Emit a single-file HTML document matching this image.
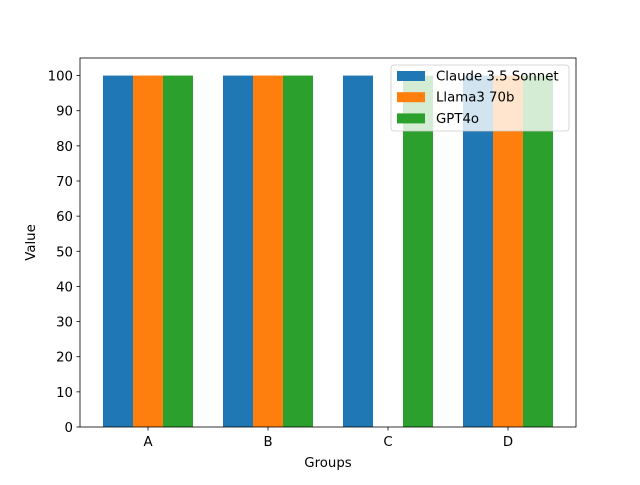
<!DOCTYPE html>
<html><head><meta charset="utf-8"><style>body{margin:0;background:#fff}svg{font-family:"DejaVu Sans","Liberation Sans",sans-serif}</style></head>
<body>
<svg id="chart" width="640" height="480" viewBox="0 0 640 480" xmlns="http://www.w3.org/2000/svg">
<rect width="640" height="480" fill="#fff"/>
<g id="bars"></g>
<g id="axes"></g>
</svg>
<script>
const categories = ["A","B","C","D"];
const seriesNames = ["Claude 3.5 Sonnet","Llama3 70b","GPT4o"];
const claudeValues = [100,100,100,100];
const llamaValues = [100,100,0,100];
const gptValues = [100,100,100,100];
const yTicks = [0,10,20,30,40,50,60,70,80,90,100];
const colors = ["#1f77b4","#ff7f0e","#2ca02c"];
const L=80,R=576,T=58,B=427;
const xmin=-0.5667,xmax=3.5667,ymin=0,ymax=105;
const xs=v=>L+(v-xmin)/(xmax-xmin)*(R-L);
const ys=v=>B-(v-ymin)/(ymax-ymin)*(B-T);
const NS="http://www.w3.org/2000/svg";
const FS=13.3;
function mk(tag,attrs,parent){const e=document.createElementNS(NS,tag);for(const k in attrs)e.setAttribute(k,attrs[k]);parent.appendChild(e);return e;}
const bars=document.getElementById('bars'),axes=document.getElementById('axes');
const series=[claudeValues,llamaValues,gptValues];
const w=0.25;
series.forEach((vals,si)=>{vals.forEach((v,i)=>{
 const c=i+(si-1)*w;
 const r=mk('rect',{x:xs(c-w/2),y:ys(v),width:xs(c+w/2)-xs(c-w/2),height:ys(0)-ys(v),fill:colors[si]},bars);
 
 
});});
mk('rect',{x:L,y:T,width:R-L,height:B-T,fill:'none',stroke:'#000','stroke-width':0.8},axes);
yTicks.forEach(t=>{const y=ys(t);
 mk('line',{x1:L-3.5,x2:L,y1:y,y2:y,stroke:'#000','stroke-width':0.8},axes);
 const tx=mk('text',{x:L-7,y:y+5,'text-anchor':'end','font-size':FS},axes);tx.textContent=t;
 
 
});
categories.forEach((c,i)=>{const x=xs(i);
 mk('line',{x1:x,x2:x,y1:B,y2:B+3.5,stroke:'#000','stroke-width':0.8},axes);
 const tx=mk('text',{x:x,y:B+19,'text-anchor':'middle','font-size':FS},axes);tx.textContent=c;
 
 
});
let t=mk('text',{x:(L+R)/2,y:467,'text-anchor':'middle','font-size':FS},axes);t.textContent='Groups';


t=mk('text',{x:0,y:0,'text-anchor':'middle','font-size':FS,transform:`translate(35,${(T+B)/2}) rotate(-90)`},axes);t.textContent='Value';


const lg=mk('g',{},axes);


mk('rect',{x:391,y:65,width:178,height:66,rx:3,fill:'#fff','fill-opacity':0.8,stroke:'#ccc','stroke-width':0.8},lg);
seriesNames.forEach((n,i)=>{const y=70+i*21.2;
 mk('rect',{x:397,y:y+1,width:28,height:10,fill:colors[i]},lg);
 const tx=mk('text',{x:408+0,y:y+10.5,'font-size':FS,dx:0},lg);tx.setAttribute('x',436);tx.textContent=n;
 
 
});
</script>
</body></html>
